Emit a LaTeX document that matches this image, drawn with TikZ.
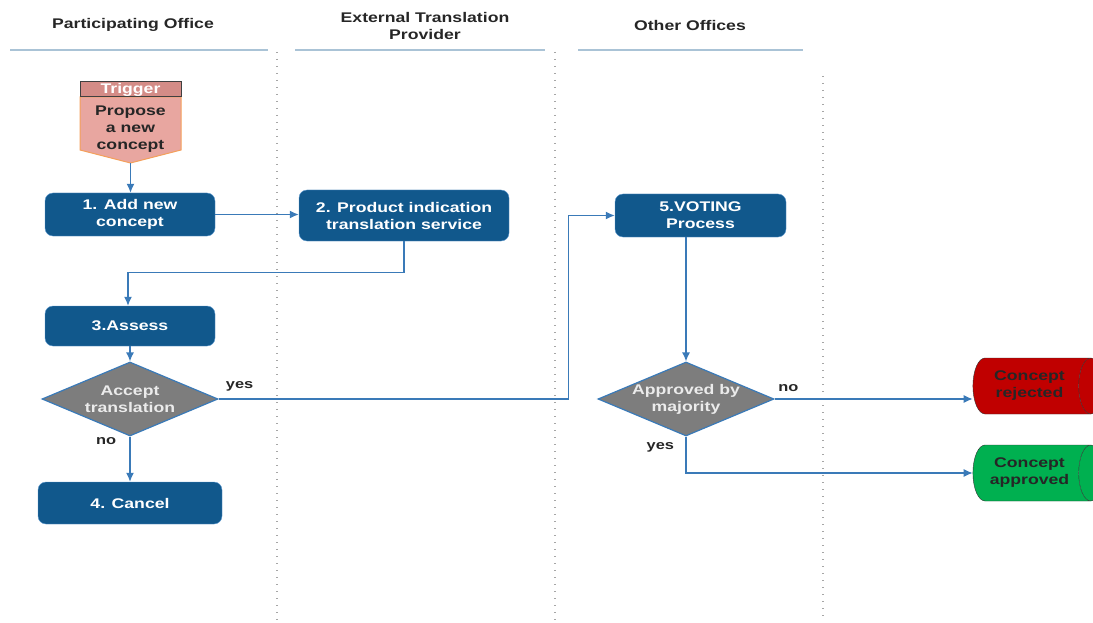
\documentclass[tikz,border=0pt]{standalone}
\usepackage{fontspec}
\setmainfont{Liberation Sans}[FakeStretch=1.26]
\usetikzlibrary{arrows.meta,shapes.geometric}

\definecolor{stepblue}{RGB}{17,88,140}
\definecolor{stepedge}{RGB}{90,150,205}
\definecolor{linkblue}{RGB}{58,122,184}
\definecolor{laneline}{RGB}{170,195,214}
\definecolor{decgray}{RGB}{125,125,125}
\definecolor{trigbody}{RGB}{232,166,160}
\definecolor{trighead}{RGB}{212,140,135}
\definecolor{trigedge}{RGB}{244,160,90}
\definecolor{stopred}{RGB}{192,0,0}
\definecolor{stopgreen}{RGB}{0,176,80}

\begin{document}
\begin{tikzpicture}[x=1pt,y=-1pt,>={Latex[length=9pt,width=8pt]},
    font=\fontsize{14}{17}\selectfont\bfseries]
    \tikzstyle{lanehead}=[align=center, text=black!85]
    \tikzstyle{stepbox}=[draw=stepedge, fill=stepblue, rounded corners=8pt,
        text=white, align=center, inner sep=3pt]
    \tikzstyle{decision}=[diamond, draw=linkblue, line width=1.2pt, fill=decgray,
        text=white!92!black, align=center, aspect=2.38, inner sep=-6pt,
        minimum width=176, minimum height=74]
    \tikzstyle{outcome}=[cylinder, draw=black!80, shape aspect=0.72,
        cylinder uses custom fill, text=black!85, align=center,
        minimum width=56, minimum height=130, inner sep=2pt]
    \tikzstyle{flow}=[->, draw=linkblue, line width=1.3pt]
    \tikzstyle{lane}=[gray!70, line width=1.4pt, dash pattern=on 1.4pt off 5.6pt]
    \tikzstyle{answer}=[font=\fontsize{13}{15}\selectfont\bfseries, text=black!85]

    \useasboundingbox (0,0) rectangle (1093,623);
    \clip (0,0) rectangle (1093,623);

    % Lane headers
    \node[lanehead] (officehead) at (133,25) {Participating Office};
    \node[lanehead] (providerhead) at (425,26) {External Translation\\Provider};
    \node[lanehead] (othershead) at (690,25) {Other Offices};
    \draw[laneline, line width=1.8pt] (10,50) -- (268,50);
    \draw[laneline, line width=1.8pt] (295,50) -- (545,50);
    \draw[laneline, line width=1.8pt] (578,50) -- (803,50);

    % Lane separators
    \draw[lane] (277,52) -- (277,620);
    \draw[lane] (555,52) -- (555,620);
    \draw[lane] (823,76) -- (823,620);

    % Trigger
    \draw[trigedge, fill=trigbody, line width=1pt]
        (80,97) -- (181,97) -- (181,150) -- (130.5,163) -- (80,150) -- cycle;
    \draw[black!75, fill=trighead, line width=1pt] (80,82) rectangle (181,97);
    \node[text=white] (trigger) at (130.5,89.5) {Trigger};
    \node[align=center, text=black!85] (proposal) at (130.5,129)
        {Propose\\a new\\concept};
    \coordinate (triggertip) at (130.5,163);

    % Steps
    \node[stepbox, minimum width=170, minimum height=43] (addconcept) at (130,214.5)
        {1. Add new\\concept};
    \node[stepbox, minimum width=210, minimum height=51] (translation) at (404,215.5)
        {2. Product indication\\translation service};
    \node[stepbox, minimum width=170, minimum height=40] (assess) at (130,326)
        {3.Assess};
    \node[decision] (accept) at (130,399) {Accept\\translation};
    \node[stepbox, minimum width=184, minimum height=42] (cancel) at (130,503)
        {4. Cancel};
    \node[stepbox, minimum width=171, minimum height=43] (voting) at (700.5,215.5)
        {5.VOTING\\Process};
    \node[decision] (approved) at (686,399) {Approved by\\majority};

    % Outcomes
    \node[outcome, cylinder body fill=stopred, cylinder end fill=stopred]
        (rejected) at (1029.5,386) {Concept\\rejected};
    \node[outcome, cylinder body fill=stopgreen, cylinder end fill=stopgreen]
        (accepted) at (1029.5,473) {Concept\\approved};

    % Flow
    \draw[flow] (triggertip) -- (addconcept.north -| triggertip);
    \draw[flow] (addconcept.east) -- (translation.west |- addconcept.east);
    \draw[flow] (translation.south) -- ++(0,31) -| ([xshift=-2pt]assess.north);
    \draw[flow] (assess.south) -- (accept.north);
    \draw[flow] (accept.south) -- node[answer, pos=0.1, left=10pt] {no} (cancel.north);
    \draw[flow] (accept.east) -- node[answer, pos=0.06, above=4pt] {yes}
        ++(350,0) |- (voting.west);
    \draw[flow] (voting.south -| approved.north) -- (approved.north);
    \draw[flow] (approved.east) -- node[answer, pos=0.07, above=3pt] {no}
        (approved.east -| rejected.west);
    \draw[flow] (approved.south) |- node[answer, pos=0.15, left=8pt] {yes}
        (accepted.west);
\end{tikzpicture}
\end{document}
